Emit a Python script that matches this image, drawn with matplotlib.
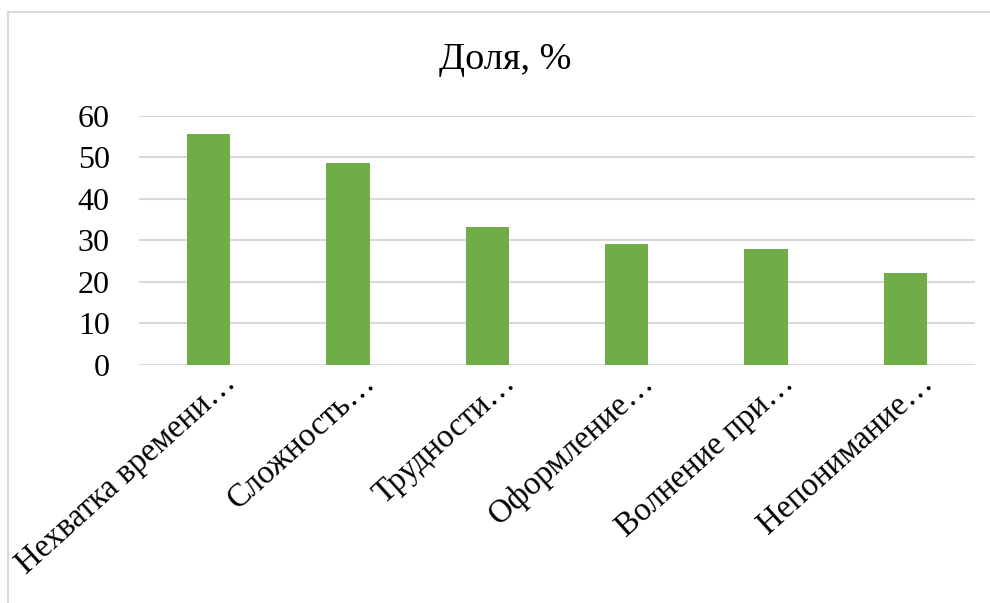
import matplotlib
matplotlib.use("Agg")
import matplotlib.pyplot as plt
from matplotlib.patches import Rectangle

# data
categories = ["Нехватка времени…", "Сложность…", "Трудности…",
              "Оформление…", "Волнение при…", "Непонимание…"]
shares = [55.7, 48.7, 33.3, 29.1, 27.8, 22.1]
y_ticks = [0, 10, 20, 30, 40, 50, 60]

plt.rcParams['font.family'] = ['Liberation Serif', 'DejaVu Serif']

W, H = 990, 603
fig = plt.figure(figsize=(W / 100, H / 100), dpi=100)
fig.patch.set_facecolor("white")

# chart frame (only top and left edges are inside the screenshot)
fig.patches.append(Rectangle((8 / W, -0.2), 1.5, 1 - 12 / H + 0.2,
                             transform=fig.transFigure, fill=False,
                             edgecolor="#D9D9D9", linewidth=1.5))

left, right, top, bottom = 139, 975, 115.7, 365
ax = fig.add_axes([left / W, 1 - bottom / H, (right - left) / W, (bottom - top) / H])

x = range(len(categories))
ax.bar(x, shares, width=0.31, color="#70AD47", zorder=3)

ax.set_xlim(-0.5, len(categories) - 0.5)
ax.set_ylim(0, 60)
ax.set_yticks(y_ticks)
ax.set_yticklabels([str(v) for v in y_ticks], fontsize=23)
ax.tick_params(axis="y", length=0, pad=21)
ax.set_xticks([])
ax.grid(axis="y", color="#D9D9D9", linewidth=1.5, zorder=0)
for s in ax.spines.values():
    s.set_visible(False)

for i, name in enumerate(categories):
    ax.annotate(name, xy=(i, 0), xycoords=("data", "axes fraction"),
                xytext=(21, -14.5), textcoords="offset points",
                rotation=42, rotation_mode="anchor", ha="right", va="baseline",
                fontsize=23.5, color="black", annotation_clip=False)

fig.text(505 / W, 1 - 69 / H, "Доля, %", ha="center", va="baseline", fontsize=27.5)

fig.savefig("out.png", dpi=100)
